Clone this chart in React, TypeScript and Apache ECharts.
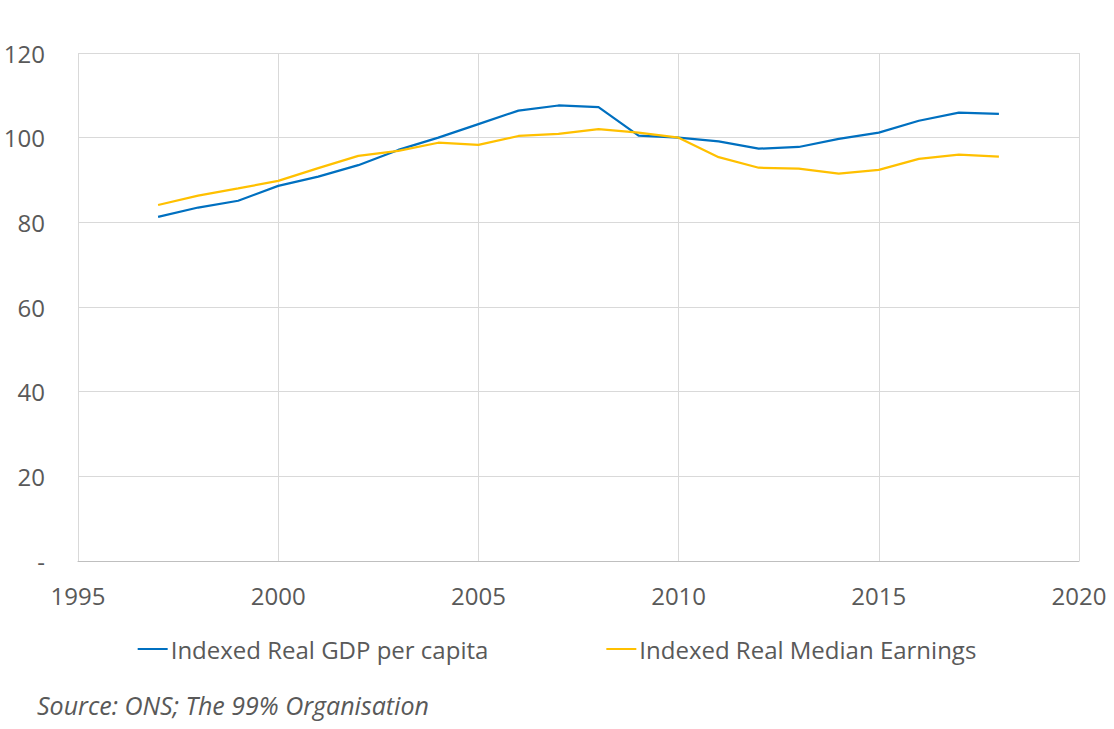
import React, { useEffect, useRef } from "react";
import * as echarts from "echarts";

const years = [1997, 1998, 1999, 2000, 2001, 2002, 2003, 2004, 2005, 2006, 2007, 2008, 2009, 2010, 2011, 2012, 2013, 2014, 2015, 2016, 2017, 2018];
const gdpPerCapita = [81.3, 83.5, 85.1, 88.6, 90.8, 93.5, 97.1, 100.0, 103.2, 106.4, 107.6, 107.2, 100.5, 100.0, 99.1, 97.4, 97.8, 99.7, 101.2, 104.0, 105.9, 105.6];
const medianEarnings = [84.1, 86.3, 88.0, 89.8, 92.8, 95.7, 96.9, 98.8, 98.3, 100.4, 100.9, 102.0, 101.2, 100.0, 95.4, 92.9, 92.7, 91.5, 92.4, 95.0, 96.0, 95.5];
const seriesNames = ["Indexed Real GDP per capita", "Indexed Real Median Earnings"];
const sourceText = "Source: ONS; The 99% Organisation";

const FONT = "Open Sans";
const TEXT = "#595959";

export default function App() {
  const ref = useRef<HTMLDivElement>(null);
  useEffect(() => {
    document.body.style.margin = "0";
    const chart = echarts.init(ref.current!, null, { renderer: "svg" });
    chart.setOption({
      animation: false,
      backgroundColor: "#ffffff",
      grid: { left: 78, right: 35, top: 53, bottom: 168, containLabel: false },
      xAxis: {
        type: "value",
        min: 1995,
        max: 2020,
        interval: 5,
        axisLine: { show: true, lineStyle: { color: "#bfbfbf", width: 1 } },
        axisTick: { show: false },
        splitLine: { show: true, lineStyle: { color: "#d9d9d9", width: 1 } },
        axisLabel: {
          color: TEXT,
          fontFamily: FONT,
          fontSize: 24,
          margin: 22,
          formatter: (v: number) => String(v),
        },
      },
      yAxis: {
        type: "value",
        min: 0,
        max: 120,
        interval: 20,
        axisLine: { show: false },
        axisTick: { show: false },
        splitLine: { show: true, lineStyle: { color: "#d9d9d9", width: 1 } },
        axisLabel: {
          color: TEXT,
          fontFamily: FONT,
          fontSize: 24,
          margin: 33,
          formatter: (v: number) => (v === 0 ? "-" : String(v)),
        },
      },
      legend: {
        top: 632,
        left: "center",
        itemGap: 118,
        itemWidth: 30,
        itemHeight: 2,
        icon: "rect",
        textStyle: { color: TEXT, fontFamily: FONT, fontSize: 24, padding: [0, 0, 0, -2] },
        data: seriesNames,
      },
      graphic: [
        {
          type: "text",
          left: 37,
          top: 692,
          style: { text: sourceText, fill: TEXT, font: `italic 25px "${FONT}"` },
        },
      ],
      series: [
        {
          name: seriesNames[0],
          type: "line",
          data: years.map((y, i) => [y, gdpPerCapita[i]]),
          showSymbol: false,
          lineStyle: { color: "#0070C0", width: 2.25 },
          itemStyle: { color: "#0070C0" },
        },
        {
          name: seriesNames[1],
          type: "line",
          data: years.map((y, i) => [y, medianEarnings[i]]),
          showSymbol: false,
          lineStyle: { color: "#FFC000", width: 2.25 },
          itemStyle: { color: "#FFC000" },
        },
      ],
    });
    return () => chart.dispose();
  }, []);
  return <div ref={ref} style={{ width: 1114, height: 729 }} />;
}
